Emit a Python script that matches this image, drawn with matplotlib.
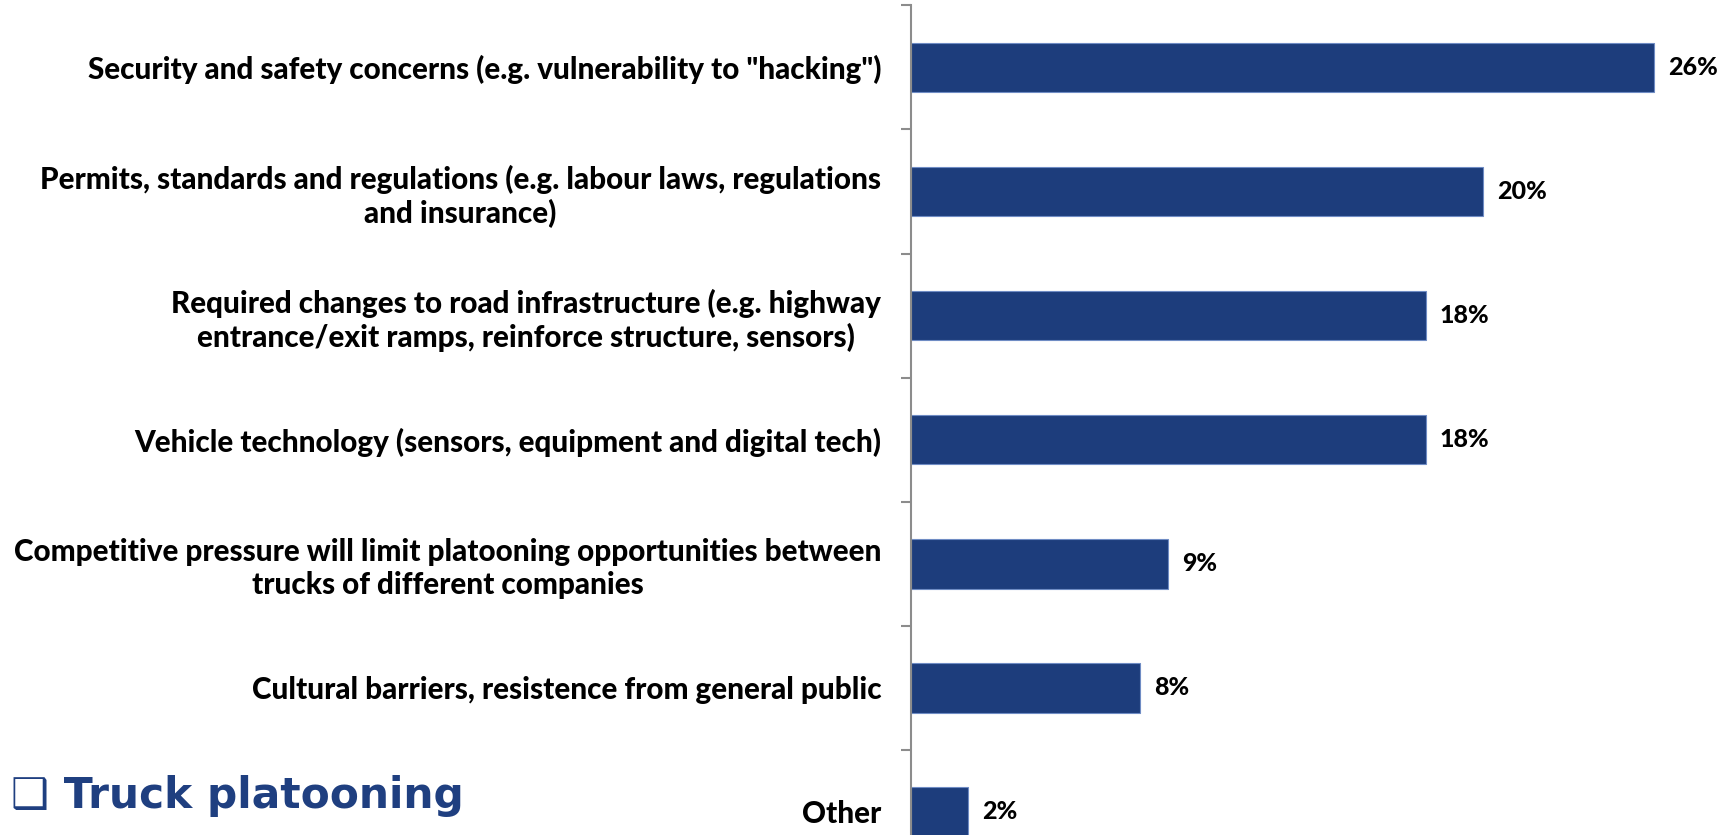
import matplotlib
matplotlib.use("Agg")
import matplotlib.pyplot as plt

# Barriers to truck platooning: share of respondents
categories = [
    'Security and safety concerns (e.g. vulnerability to "hacking")',
    "Permits, standards and regulations (e.g. labour laws, regulations\nand insurance)",
    "Required changes to road infrastructure (e.g. highway\nentrance/exit ramps, reinforce structure, sensors)",
    "Vehicle technology (sensors, equipment and digital tech)",
    "Competitive pressure will limit platooning opportunities between\ntrucks of different companies",
    "Cultural barriers, resistence from general public",
    "Other",
]
values = [26, 20, 18, 18, 9, 8, 2]
value_labels = ["26%", "20%", "18%", "18%", "9%", "8%", "2%"]
section_title = "\u2751 Truck platooning"

BAR_BLUE = "#1d3d7c"
EDGE_BLUE = "#6f8cc4"
AXIS_GREY = "#8c8c8c"

W, H = 1730, 835
fig = plt.figure(figsize=(W / 100, H / 100), dpi=100)
fig.patch.set_facecolor("white")

# axes geometry in pixels: left spine, top, height per category
left_px = 911
top_px = 5.3
row_px = 124.1
n = len(categories)
ax = fig.add_axes([left_px / W, 1 - (top_px + n * row_px) / H,
                   (W - left_px) / W, n * row_px / H])

pos = list(range(n))
ax.barh(pos, values, height=0.40, color=BAR_BLUE, edgecolor=EDGE_BLUE,
        linewidth=0.8, zorder=2)

ax.set_xlim(0, 28.65)
ax.set_ylim(n - 0.5, -0.5)

for sp in ("top", "right", "bottom"):
    ax.spines[sp].set_visible(False)
ax.spines["left"].set_color(AXIS_GREY)
ax.spines["left"].set_linewidth(1.5)
ax.set_xticks([])

# category labels at bar centres, tick marks at category boundaries
ax.set_yticks(pos)
ax.set_yticklabels(categories, fontfamily="Lato", fontweight=900,
                   fontsize=21.3, color="black", multialignment="center",
                   linespacing=1.2)
ax.tick_params(axis="y", which="major", length=0, pad=21.5)
ax.set_yticks([p - 0.5 for p in pos], minor=True)
ax.tick_params(axis="y", which="minor", length=7.2, width=1.5, color=AXIS_GREY)

for p, v, lab in zip(pos, values, value_labels):
    ax.text(v + 0.5, p, lab, va="center", ha="left", fontfamily="Lato",
            fontweight=900, fontsize=18, color="black")

fig.text(11 / W, 1 - 808 / H, section_title, ha="left", va="baseline",
         fontfamily="DejaVu Sans", fontweight="bold", fontsize=30.5,
         color="#1f3f80")

fig.savefig("out.png", dpi=100, facecolor="white")
